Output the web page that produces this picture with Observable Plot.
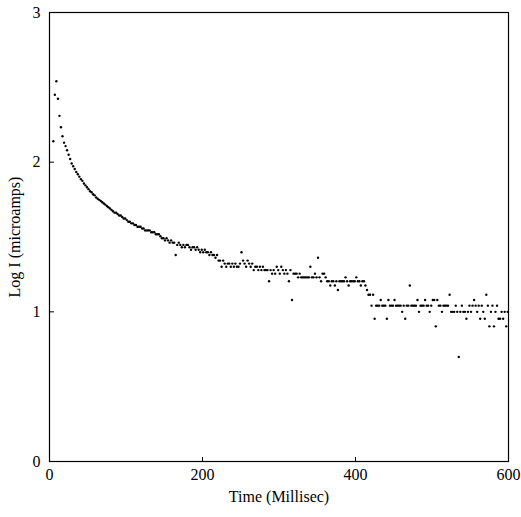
<!DOCTYPE html>
<html><head><meta charset="utf-8">
<script src="https://cdn.jsdelivr.net/npm/d3@7"></script>
<script src="https://cdn.jsdelivr.net/npm/@observablehq/plot@0.6"></script>
<style>body{margin:0;background:#fff}</style>
</head><body><div id="chart"></div>
<script>
// sampling: first sample at 5 ms, one sample every 2 ms
const startTime = 5;
const stepTime = 2;
// current in microamps (integers); plotted as log10
const currentMicroamps = [
  138, 282, 347, 265, 204, 171, 149, 135, 128, 120,
  112, 105, 98, 94, 90, 86, 83, 80, 77, 75,
  72, 70, 68, 66, 64, 63, 61, 60, 58, 57,
  56, 55, 54, 53, 52, 51, 50, 49, 48, 47,
  46, 46, 45, 44, 44, 43, 42, 42, 41, 40,
  40, 39, 39, 38, 38, 37, 37, 37, 36, 36,
  35, 35, 35, 35, 34, 34, 34, 33, 33, 33,
  32, 31, 31, 30, 31, 30, 29, 30, 29, 29,
  24, 28, 29, 28, 27, 28, 27, 28, 28, 27,
  26, 27, 27, 26, 27, 26, 25, 26, 25, 26,
  25, 25, 24, 25, 24, 24, 23, 24, 22, 22,
  20, 22, 21, 20, 21, 21, 20, 21, 20, 21,
  20, 20, 21, 25, 22, 21, 20, 22, 21, 20,
  21, 19, 20, 20, 19, 20, 19, 20, 19, 19,
  19, 16, 19, 18, 19, 18, 20, 19, 18, 20,
  19, 18, 19, 18, 16, 19, 12, 18, 18, 18,
  17, 18, 17, 17, 17, 17, 17, 17, 20, 17,
  17, 18, 17, 23, 17, 16, 18, 18, 17, 16,
  16, 15, 16, 16, 15, 16, 14, 16, 16, 16,
  16, 17, 16, 15, 16, 16, 16, 16, 17, 16,
  16, 15, 16, 16, 15, 14, 13, 13, 11, 13,
  9, 11, 11, 11, 12, 11, 11, 11, 9, 12,
  11, 11, 11, 12, 11, 11, 11, 11, 10, 11,
  9, 11, 11, 15, 11, 11, 11, 11, 12, 10,
  11, 11, 11, 12, 11, 11, 10, 11, 12, 12,
  8, 12, 11, 11, 10, 11, 11, 11, 11, 13,
  10, 10, 10, 11, 10, 5, 10, 11, 10, 10,
  9, 10, 11, 10, 11, 12, 11, 10, 11, 9,
  11, 10, 9, 13, 11, 8, 10, 11, 8, 10,
  11, 9, 9, 10, 9, 10, 8, 10
];
const xTicks = [0, 200, 400, 600];
const yTicks = [0, 1, 2, 3];

const data = currentMicroamps.map((c, i) => ({time: startTime + i * stepTime, logI: Math.log10(c)}));

const chart = Plot.plot({
  width: 521, height: 517,
  marginLeft: 49, marginRight: 13, marginTop: 12, marginBottom: 56,
  style: {fontFamily: "'Liberation Serif', 'Times New Roman', serif", fontSize: "17px", background: "#fff", color: "#000"},
  x: {domain: [0, 600]},
  y: {domain: [0, 3]},
  marks: [
    Plot.frame({stroke: "#000", strokeWidth: 1.2}),
    Plot.axisX(xTicks, {tickSize: 0, tickPadding: 7, fontSize: 16, tickFormat: d3.format("d"), label: "Time (Millisec)", labelAnchor: "center", labelOffset: 40, labelArrow: "none"}),
    Plot.axisY(yTicks, {tickSize: 0, tickPadding: 9, fontSize: 16, tickFormat: d3.format("d"), label: "Log I (microamps)", labelAnchor: "center", labelOffset: 41, labelArrow: "none"}),
    Plot.tickX(xTicks, {x: d => d, insetTop: 445, stroke: "#000"}),
    Plot.tickY(yTicks, {y: d => d, insetRight: 454, stroke: "#000"}),
    Plot.dot(data, {x: "time", y: "logI", r: 1.2, fill: "#000", stroke: "none"})
  ]
});
document.getElementById("chart").appendChild(chart);
</script>
</body></html>
